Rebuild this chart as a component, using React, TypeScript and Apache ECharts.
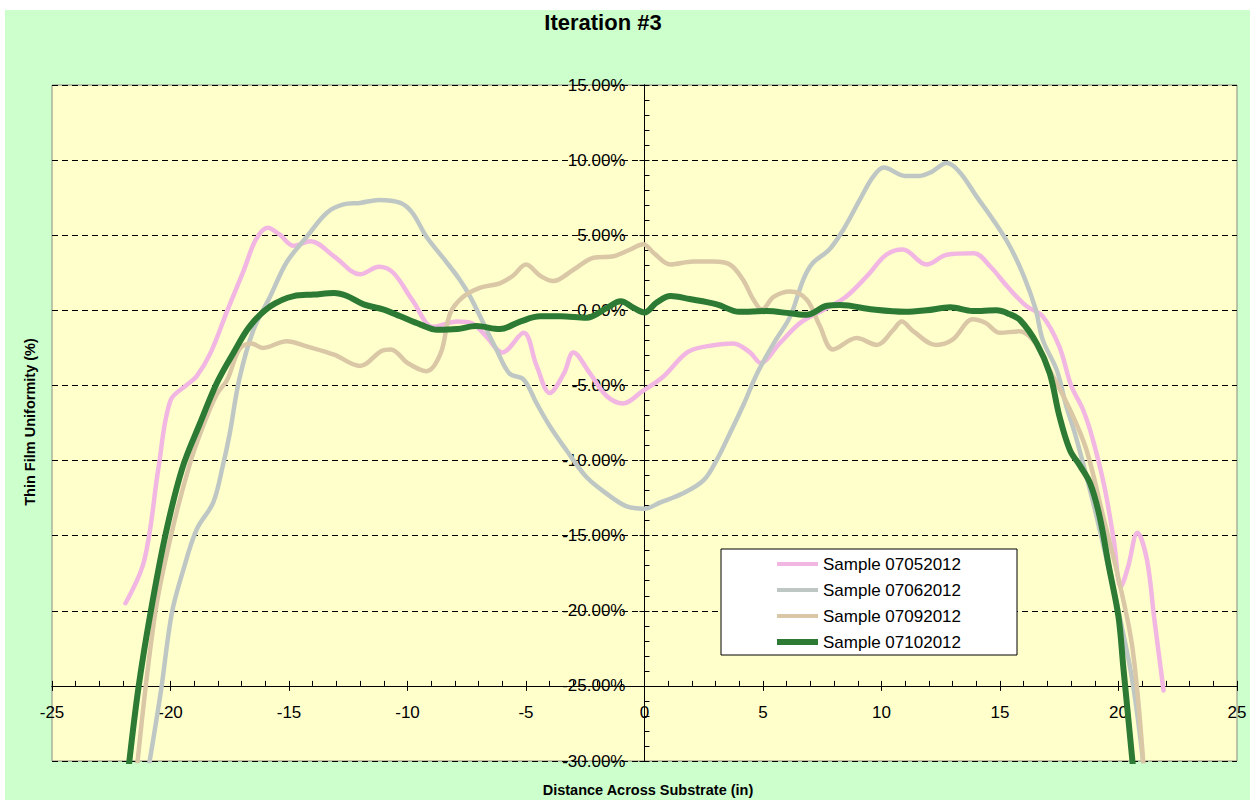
import React, { useEffect, useRef } from "react";
import * as echarts from "echarts";

const titleText = "Iteration #3";
const xAxisName = "Distance Across Substrate (in)";
const yAxisName = "Thin Film Uniformity (%)";
const seriesNames = ["Sample 07052012", "Sample 07062012", "Sample 07092012", "Sample 07102012"];
const seriesColors = ["#f2b6e2", "#bfc7c4", "#dac7a6", "#2c7a33"];
const seriesWidths = [4.5, 4.5, 4.5, 6];

const pinkData = [
  [-21.9, -19.5], [-21.1, -16.6], [-20.5, -10.4], [-20.0, -6.0], [-19.3, -4.95], [-18.9, -4.4],
  [-18.3, -2.8], [-17.6, 0], [-16.9, 2.7], [-16.4, 4.7], [-15.9, 5.5], [-15.4, 5.05], [-14.8, 4.3],
  [-14.1, 4.6], [-13.1, 3.6], [-12.0, 2.4], [-11.2, 2.9], [-10.6, 2.5], [-9.8, 0.7], [-8.9, -1.1],
  [-7.9, -0.75], [-7.3, -0.85], [-6.7, -1.7], [-6.0, -2.8], [-5.1, -1.5], [-4.55, -3.7], [-4.0, -5.5],
  [-3.4, -4.2], [-3.0, -2.8], [-2.3, -4.2], [-1.6, -5.7], [-0.9, -6.2], [-0.1, -5.4], [0.8, -4.4],
  [1.8, -2.8], [2.6, -2.4], [3.75, -2.2], [4.45, -2.8], [4.9, -3.5], [5.7, -2.2], [6.6, -0.8],
  [7.7, 0.15], [8.5, 0.9], [9.4, 2.3], [10.2, 3.7], [10.9, 4.05], [11.9, 3.05], [12.75, 3.7],
  [13.9, 3.8], [14.6, 2.9], [15.3, 1.6], [16.1, 0.3], [16.8, -0.4], [17.5, -2.4], [18.0, -5.0],
  [18.5, -6.6], [18.9, -8.5], [19.4, -11.7], [19.8, -15.3], [20.1, -18.4], [20.4, -17.1],
  [20.8, -14.8], [21.2, -16.6], [21.5, -20.4], [21.9, -25.3],
];

const grayData = [
  [-20.9, -30.2], [-20.4, -25.3], [-19.95, -20.2], [-19.5, -17.5], [-18.9, -14.6], [-18.2, -12.8],
  [-17.8, -10.4], [-17.5, -8.2], [-17.1, -4.6], [-16.5, -1.3], [-15.8, 0.9], [-15.1, 3.2],
  [-14.25, 4.9], [-13.4, 6.5], [-12.7, 7.05], [-12.0, 7.15], [-11.2, 7.35], [-10.3, 7.15],
  [-9.8, 6.5], [-9.2, 4.9], [-8.35, 3.2], [-7.8, 2.05], [-7.35, 0.9], [-6.8, -0.85], [-6.25, -2.6],
  [-5.7, -4.2], [-5.1, -4.6], [-4.55, -6.2], [-4.0, -7.7], [-3.3, -9.3], [-2.45, -11.1],
  [-1.6, -12.2], [-0.75, -13.05], [0.0, -13.2], [0.65, -12.8], [1.6, -12.2], [2.5, -11.3],
  [3.05, -9.95], [3.6, -8.2], [4.2, -6.2], [4.75, -4.2], [5.45, -2.2], [6.15, -0.4], [6.7, 2.05],
  [7.1, 3.15], [7.8, 4.05], [8.4, 5.4], [9.1, 7.4], [9.65, 8.9], [10.1, 9.5], [11.0, 8.95],
  [11.6, 8.95], [12.1, 9.2], [12.75, 9.8], [13.3, 9.2], [14.0, 7.6], [14.7, 6.05], [15.4, 4.3],
  [16.0, 2.3], [16.5, 0.1], [16.8, -1.95], [17.4, -4.0], [17.8, -6.4], [18.2, -8.4], [18.9, -12.6],
  [19.5, -16.6], [20.05, -20.4], [20.6, -24.8], [21.05, -30.2],
];

const tanData = [
  [-21.4, -30.2], [-20.65, -20.2], [-19.95, -14.8], [-19.2, -10.3], [-18.6, -7.6], [-18.05, -5.6],
  [-17.6, -4.6], [-17.1, -2.6], [-16.6, -2.2], [-16.1, -2.5], [-15.1, -2.05], [-14.25, -2.4],
  [-13.1, -2.95], [-12.0, -3.7], [-11.1, -2.7], [-10.7, -2.6], [-10.0, -3.5], [-9.2, -4.05],
  [-8.6, -2.85], [-8.2, -0.2], [-7.65, 0.9], [-6.95, 1.5], [-6.1, 1.8], [-5.55, 2.3], [-5.0, 3.05],
  [-4.4, 2.3], [-3.85, 1.95], [-3.0, 2.7], [-2.15, 3.5], [-1.3, 3.6], [-0.6, 4.05], [-0.05, 4.4],
  [0.4, 3.8], [1.1, 3.05], [2.05, 3.25], [2.9, 3.25], [3.6, 3.05], [4.15, 2.05], [4.6, 0.7],
  [4.95, 0.05], [5.45, 0.9], [6.15, 1.25], [6.85, 0.7], [7.4, -1.05], [7.95, -2.6], [8.95, -1.85],
  [9.8, -2.3], [10.5, -1.3], [10.85, -0.75], [11.35, -1.4], [12.3, -2.3], [13.0, -1.95],
  [13.85, -0.6], [14.4, -0.85], [15.0, -1.5], [15.8, -1.4], [16.4, -2.0], [17.0, -3.7],
  [17.95, -6.6], [18.65, -9.3], [19.35, -13.7], [20.05, -18.2], [20.6, -22.6], [21.05, -30.2],
];

const greenData = [
  [-21.75, -30.2], [-21.35, -25.1], [-20.85, -20.2], [-20.2, -14.85], [-19.5, -10.5],
  [-18.75, -7.5], [-18.05, -4.85], [-17.35, -2.85], [-16.65, -1.05], [-15.8, 0.25], [-14.8, 0.95],
  [-13.95, 1.05], [-13.1, 1.15], [-12.55, 0.95], [-11.85, 0.4], [-11.0, 0.05], [-10.3, -0.4],
  [-9.45, -0.95], [-8.75, -1.3], [-7.9, -1.25], [-7.1, -1.05], [-6.1, -1.25], [-5.25, -0.75],
  [-4.4, -0.4], [-3.55, -0.4], [-2.45, -0.5], [-1.6, 0.15], [-1.0, 0.6], [-0.45, 0.15], [0.0, -0.15],
  [0.5, 0.5], [1.1, 0.95], [1.9, 0.75], [3.05, 0.4], [4.0, -0.1], [5.15, -0.05], [6.15, -0.2],
  [6.85, -0.3], [7.7, 0.3], [8.25, 0.35], [9.65, 0.05], [11.0, -0.1], [11.9, 0], [12.9, 0.2],
  [13.85, -0.05], [14.85, 0], [15.4, -0.25], [15.85, -0.65], [16.55, -2.2], [17.1, -4.2],
  [17.5, -7.0], [17.95, -9.3], [18.4, -10.4], [18.8, -11.5], [19.2, -13.7], [19.6, -17.1],
  [20.0, -20.4], [20.2, -23.7], [20.6, -30.2],
];

const allData = [pinkData, grayData, tanData, greenData];

const X_MIN = -25, X_MAX = 25, X_INT = 5;
const Y_MIN = -30, Y_MAX = 15, Y_INT = 5;

const FONT = 'Arial, "Liberation Sans", sans-serif';

// grid geometry (div coords)
const GRID_LEFT = 47, GRID_RIGHT = 13, GRID_TOP = 75, GRID_BOTTOM = 39;
const CHART_W = 1245, CHART_H = 790;

export default function App() {
  const ref = useRef<HTMLDivElement>(null);
  useEffect(() => {
    if (!ref.current) return;
    const chart = echarts.init(ref.current, undefined, { renderer: "svg" });
    const plotW = CHART_W - GRID_LEFT - GRID_RIGHT;
    const plotH = CHART_H - GRID_TOP - GRID_BOTTOM;
    // y axis sits at x = 0, x axis sits at y = -25%
    const yOffset = -plotW * ((0 - X_MIN) / (X_MAX - X_MIN));
    const xOffset = -plotH * ((-25 - Y_MIN) / (Y_MAX - Y_MIN));
    const baseX = {
      type: "value",
      min: X_MIN,
      max: X_MAX,
      interval: X_INT,
      position: "bottom",
      offset: xOffset,
      axisLine: { onZero: false, lineStyle: { color: "#000", width: 1 } },
      splitLine: { show: false },
    };
    const baseY = {
      type: "value",
      min: Y_MIN,
      max: Y_MAX,
      interval: Y_INT,
      position: "left",
      offset: yOffset,
      axisLine: { onZero: false, lineStyle: { color: "#000", width: 1 } },
    };
    const option = {
      animation: false,
      backgroundColor: "#ccffcc",
      grid: {
        left: GRID_LEFT,
        right: GRID_RIGHT,
        top: GRID_TOP,
        bottom: GRID_BOTTOM,
        show: true,
        backgroundColor: "#ffffcc",
        borderColor: "#8a8a80",
        borderWidth: 1,
        containLabel: false,
        outerBoundsMode: "none",
      },
      xAxis: [
        {
          ...baseX,
          axisTick: { show: true, inside: true, length: 5, lineStyle: { color: "#000" } },
          minorTick: { show: true, splitNumber: 5, length: 5, lineStyle: { color: "#000" } },
          axisLabel: { color: "#000", fontSize: 17, fontFamily: FONT, margin: 18 },
        },
        {
          ...baseX,
          axisTick: { show: true, inside: false, length: 5, lineStyle: { color: "#000" } },
          axisLabel: { show: false },
        },
      ],
      yAxis: [
        {
          ...baseY,
          axisTick: { show: true, inside: true, length: 5, lineStyle: { color: "#000" } },
          minorTick: { show: true, splitNumber: 5, length: 5, lineStyle: { color: "#000" } },
          axisLabel: {
            color: "#000",
            fontSize: 17,
            fontFamily: FONT,
            margin: 19,
            formatter: (v: number) => v.toFixed(2) + "%",
          },
          splitLine: { show: true, lineStyle: { color: "#000", type: [6, 4], width: 1 } },
        },
        {
          ...baseY,
          axisTick: { show: true, inside: false, length: 5, lineStyle: { color: "#000" } },
          axisLabel: { show: false },
          splitLine: { show: false },
        },
      ],
      legend: {
        orient: "vertical",
        left: 716,
        top: 539,
        backgroundColor: "#ffffff",
        borderColor: "#000",
        borderWidth: 1,
        borderRadius: 0,
        padding: [5, 56, 3, 56],
        itemWidth: 41,
        itemHeight: 14,
        itemGap: 6,
        symbolKeepAspect: true,
        textStyle: { color: "#000", fontSize: 17, fontFamily: FONT, lineHeight: 20 },
        data: seriesNames.map((name, i) => ({
          name,
          icon: i === 3 ? "path://M0,0 L41,0 L41,6 L0,6 Z" : "path://M0,0 L41,0 L41,4 L0,4 Z",
          itemStyle: { color: seriesColors[i] },
        })),
      },
      graphic: [
        {
          type: "text",
          x: 598,
          y: 12,
          style: {
            text: titleText,
            fill: "#000",
            font: `bold 22px ${FONT}`,
            textAlign: "center",
            textVerticalAlign: "middle",
          },
        },
        {
          type: "text",
          x: 643,
          y: 780,
          style: {
            text: xAxisName,
            fill: "#000",
            font: `bold 14.5px ${FONT}`,
            textAlign: "center",
            textVerticalAlign: "middle",
          },
        },
        {
          type: "text",
          x: 25,
          y: 412,
          rotation: Math.PI / 2,
          style: {
            text: yAxisName,
            fill: "#000",
            font: `bold 14.5px ${FONT}`,
            textAlign: "center",
            textVerticalAlign: "middle",
          },
        },
      ],
      series: seriesNames.map((name, i) => ({
        name,
        type: "line",
        xAxisIndex: 0,
        yAxisIndex: 0,
        data: allData[i],
        smooth: 0.35,
        symbol: "none",
        clip: true,
        color: seriesColors[i],
        lineStyle: { color: seriesColors[i], width: seriesWidths[i], cap: "round", join: "round" },
        z: 2 + i,
      })),
    };
    chart.setOption(option as any);
    return () => chart.dispose();
  }, []);
  return (
    <div
      ref={ref}
      style={{ position: "absolute", left: 5, top: 10, width: CHART_W, height: CHART_H }}
    />
  );
}
